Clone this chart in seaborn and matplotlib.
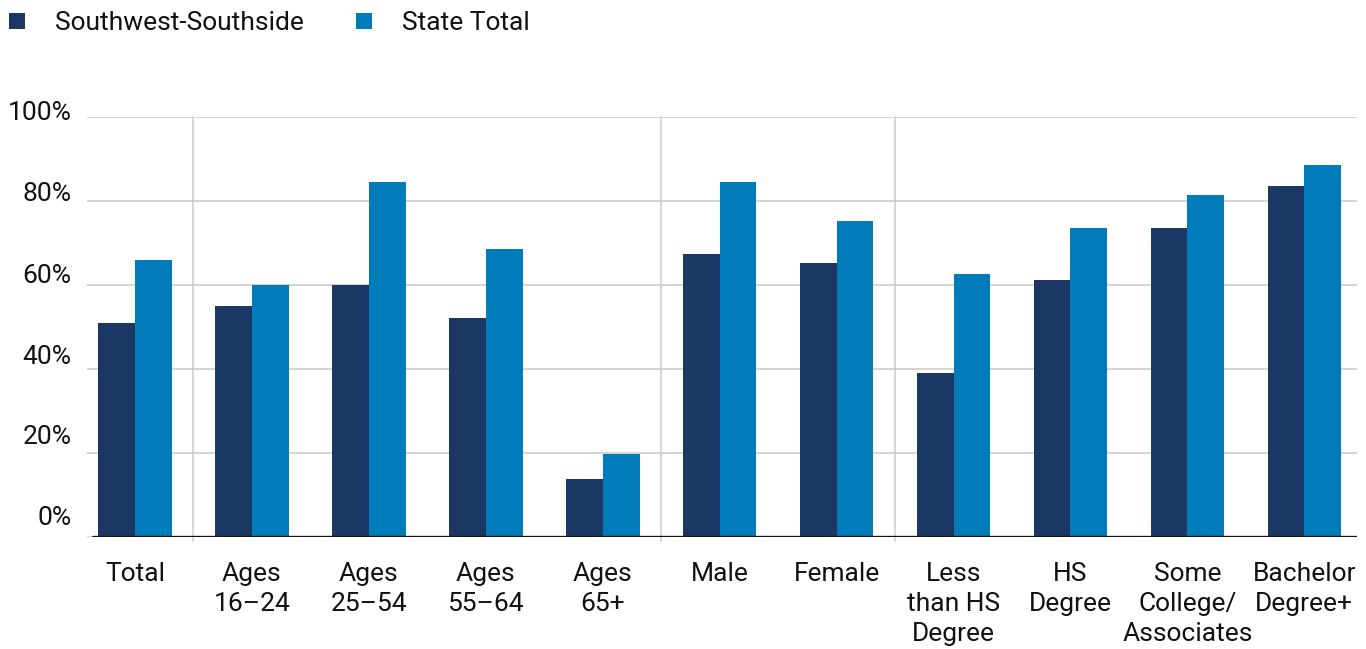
import matplotlib
matplotlib.use("Agg")
import matplotlib.pyplot as plt
import matplotlib.transforms as mtransforms
from matplotlib.patches import Patch
import pandas as pd
import seaborn as sns

# Category labels along the x axis
categories = [
    "Total", "Ages\n16–24", "Ages\n25–54", "Ages\n55–64", "Ages\n65+",
    "Male", "Female", "Less\nthan HS\nDegree", "HS\nDegree",
    "Some\nCollege/\nAssociates", "Bachelor\nDegree+",
]
series_names = ["Southwest-Southside", "State Total"]
southwest_southside = [51.0, 55.0, 60.0, 52.1, 13.8, 67.4, 65.2, 39.0, 61.2, 73.6, 83.6]
state_total = [66.0, 60.0, 84.5, 68.6, 19.8, 84.6, 75.2, 62.6, 73.6, 81.5, 88.6]
y_ticks = [0, 20, 40, 60, 80, 100]
y_tick_labels = ["0%", "20%", "40%", "60%", "80%", "100%"]
group_separators = [0.5, 4.5, 6.5]

colors = ["#1B3864", "#007CBA"]

df = pd.DataFrame({
    "category": categories * 2,
    "series": [series_names[0]] * len(categories) + [series_names[1]] * len(categories),
    "value": southwest_southside + state_total,
})

sns.set_theme(style="white")
plt.rcParams["font.family"] = ["Roboto", "DejaVu Sans"]

fig = plt.figure(figsize=(13.66, 6.49), dpi=100)
ax = fig.add_axes([0.0637, 0.1726, 0.9297, 0.6471])

sns.barplot(
    data=df, x="category", y="value", hue="series",
    order=categories, hue_order=series_names, palette=colors,
    width=0.63, gap=0, saturation=1, legend=False, ax=ax,
    linewidth=0, err_kws={"linewidth": 0},
)

ax.set_ylim(0, 100)
ax.set_xlim(-0.41, 10.45)
ax.set_axisbelow(True)
ax.set_yticks(y_ticks)
ax.set_yticklabels(y_tick_labels)
ax.yaxis.grid(True, color="#C9C9C9", linewidth=1.1)
ax.xaxis.grid(False)
for x in group_separators:
    ax.axvline(x, ymin=-0.01, ymax=1, color="#CFCFCF", linewidth=1.2, zorder=0.5, clip_on=False)
ax.axhline(0, xmin=0.005, color="#111111", linewidth=2.4, zorder=3)

for side in ["top", "right", "left", "bottom"]:
    ax.spines[side].set_visible(False)

ax.set_xlabel("")
ax.set_ylabel("")
ax.tick_params(axis="both", length=0, labelsize=19, colors="#111111")
ax.tick_params(axis="y", pad=11)
ax.tick_params(axis="x", pad=18)
for lbl in ax.get_xticklabels():
    lbl.set_linespacing(1.32)

# y labels sit a little above their gridlines
label_lift_px = [21, 18, 14, 12, 10, 7]
for lbl, lift in zip(ax.get_yticklabels(), label_lift_px):
    lbl.set_transform(lbl.get_transform() + mtransforms.ScaledTranslation(0, lift / 100, fig.dpi_scale_trans))

handles = [Patch(facecolor=c, edgecolor="none") for c in colors]
fig.legend(
    handles, series_names, loc="upper left", bbox_to_anchor=(0.0, 0.997),
    ncol=2, frameon=False, fontsize=19, handlelength=0.6, handleheight=0.6,
    handletextpad=1.15, columnspacing=1.95, borderaxespad=0.0, borderpad=0.35,
    labelcolor="#111111",
)

fig.savefig("out.png", dpi=100)
